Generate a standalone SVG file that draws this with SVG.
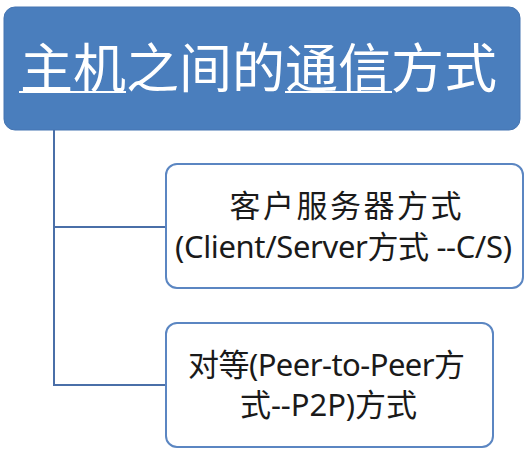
<svg xmlns="http://www.w3.org/2000/svg" width="531" height="455" viewBox="0 0 531 455">
<style>
.bg{fill:#ffffff}
.conn{fill:none;stroke:#4a6fa8;stroke-width:2}
.box{fill:#ffffff;stroke:#5b86c2;stroke-width:2}
.title{font-family:"Noto Sans CJK SC","Noto Sans",sans-serif;font-size:53px;fill:#ffffff}
.ul{stroke:#ffffff;stroke-width:2}
.lbl{font-family:"Noto Sans","Noto Sans CJK SC",sans-serif;font-size:31px;fill:#1a1a1a;text-anchor:middle}
</style>
<rect class="bg" x="0" y="0" width="531" height="455"/>
<g id="connectors">
<path class="conn" d="M54,130 V385 H166"/>
<path class="conn" d="M54,227 H166"/>
</g>
<g id="root">
<rect x="4" y="7" width="516" height="123" rx="11" fill="#4a7ebd" stroke="#4575b2" stroke-width="1"/>
<text class="title" x="20" y="87.5">主机之间的通信方式</text>
<line class="ul" x1="19" y1="92" x2="126" y2="92"/>
<line class="ul" x1="285" y1="92" x2="392" y2="92"/>
</g>
<g id="cs">
<rect class="box" x="166" y="164" width="357" height="124" rx="11"/>
<text class="lbl" x="345.5" y="217" textLength="232" lengthAdjust="spacing">客户服务器方式</text>
<text class="lbl" x="343.5" y="258" textLength="337" lengthAdjust="spacing">(Client/Server方式 --C/S)</text>
</g>
<g id="p2p">
<rect class="box" x="166" y="323" width="327" height="124" rx="11"/>
<text class="lbl" x="326.5" y="376" textLength="277" lengthAdjust="spacing">对等(Peer-to-Peer方</text>
<text class="lbl" x="328.5" y="416" textLength="177" lengthAdjust="spacing">式--P2P)方式</text>
</g>
</svg>
